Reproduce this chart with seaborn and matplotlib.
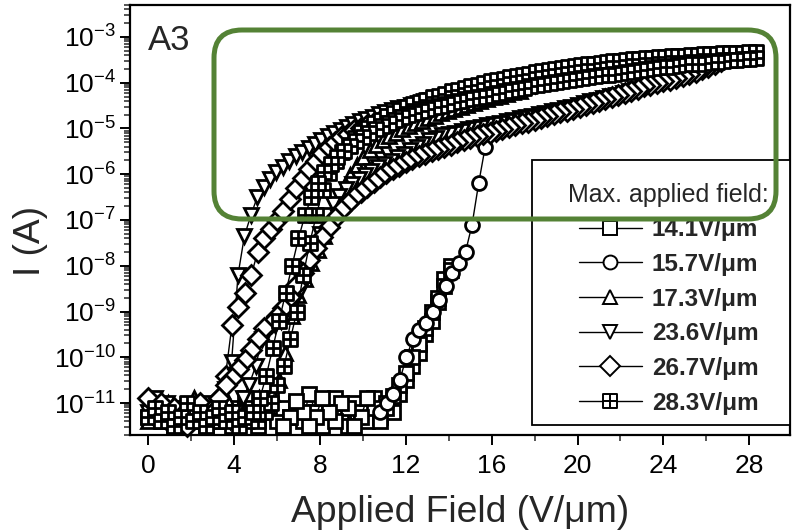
import numpy as np
import pandas as pd
import matplotlib
matplotlib.use("Agg")
import matplotlib.pyplot as plt
from matplotlib.path import Path
from matplotlib.lines import Line2D
from matplotlib.patches import Rectangle, FancyBboxPatch
from matplotlib.ticker import MultipleLocator, LogLocator, NullFormatter
from matplotlib.transforms import IdentityTransform
import seaborn as sns

# ---------------------------------------------------------------------------
# Field-emission I-V sweeps, sample A3. Each sweep is a uniform field ramp
# (about 0.3 V/um per step); currents are stored as log10(I / A).
# ---------------------------------------------------------------------------
series_labels = ["14.1V/\u03bcm", "15.7V/\u03bcm", "17.3V/\u03bcm",
                 "23.6V/\u03bcm", "26.7V/\u03bcm", "28.3V/\u03bcm"]
max_field = [14.1, 15.7, 17.3, 23.6, 26.7, 28.3]

# ---- ramp-up sweeps -------------------------------------------------------
up_141 = [-11.3, -11.0, -11.4, -11.2, -11.5, -11.1, -11.3, -11.4, -11.2, -11.5,
          -11.3, -11.4, -11.2, -11.5, -11.1, -10.9, -11.3, -11.5, -11.2, -10.9,
          -11.4, -11.1, -11.3, -11.0, -11.4, -10.8, -11.2, -11.5, -11.1, -10.9,
          -11.3, -11.5, -11.0, -11.2, -11.4, -10.9, -11.3, -11.0, -11.2, -10.8,
          -10.5, -10.2, -9.9, -9.5, -9.2, -8.8, -8.3, -8.0]
up_157 = [-11.2, -11.0, -10.8, -10.5, -10.0, -9.6, -9.4, -9.25, -9.0, -8.75,
          -8.45, -8.15, -7.95, -7.7, -7.1, -6.2, -5.4]
up_173 = [-11.4, -11.1, -11.3, -11.0, -11.2, -11.5, -11.2, -10.9, -11.3, -11.1,
          -11.4, -11.2, -10.9, -11.3, -11.1, -11.4, -11.2, -10.9, -11.1, -10.8,
          -10.5, -9.9, -9.1, -8.65, -8.3, -7.95, -7.65, -7.35, -7.0, -6.65,
          -6.3, -6.02, -5.8, -5.62, -5.48, -5.36, -5.26, -5.17, -5.09, -5.02,
          -4.95, -4.89, -4.83, -4.77, -4.72, -4.67, -4.62, -4.57, -4.52, -4.48,
          -4.44, -4.4, -4.36, -4.32, -4.28, -4.25, -4.21, -4.18]
up_236 = [-11.2, -10.9, -11.3, -11.0, -11.4, -11.2, -11.5, -11.1, -11.3, -11.0,
          -11.4, -11.1, -10.7, -10.1, -8.2, -7.35, -6.9, -6.5, -6.27, -6.1,
          -5.96, -5.84, -5.72, -5.61, -5.51, -5.42, -5.33, -5.25, -5.17, -5.1,
          -5.03, -4.96, -4.9, -4.84, -4.79, -4.74, -4.69, -4.64, -4.6, -4.56,
          -4.52, -4.48, -4.45, -4.41, -4.38, -4.35, -4.32, -4.29, -4.26, -4.23,
          -4.2, -4.17, -4.14, -4.12, -4.09, -4.06, -4.03, -4.01, -3.98, -3.96,
          -3.93, -3.91, -3.88, -3.86, -3.84, -3.81, -3.79, -3.77, -3.75, -3.73,
          -3.71, -3.69, -3.67, -3.65, -3.63, -3.61, -3.6, -3.58, -3.56, -3.55]
up_267 = [-10.9, -11.2, -11.0, -11.4, -11.1, -11.3, -11.5, -11.2, -11.0, -11.3,
          -11.1, -10.9, -10.4, -9.3, -8.9, -8.6, -8.2, -7.7, -7.4, -7.2,
          -7.0, -6.8, -6.55, -6.3, -6.08, -5.88, -5.7, -5.53, -5.4, -5.29,
          -5.19, -5.11, -5.04, -4.98, -4.93, -4.88, -4.83, -4.79, -4.74, -4.7,
          -4.66, -4.62, -4.58, -4.54, -4.5, -4.46, -4.43, -4.4, -4.36, -4.33,
          -4.3, -4.26, -4.23, -4.2, -4.16, -4.13, -4.11, -4.08, -4.05, -4.03,
          -4.0, -3.97, -3.95, -3.92, -3.89, -3.87, -3.85, -3.82, -3.8, -3.78,
          -3.76, -3.74, -3.72, -3.7, -3.68, -3.66, -3.64, -3.62, -3.6, -3.58,
          -3.57, -3.55, -3.53, -3.52, -3.5, -3.49, -3.47, -3.46, -3.44, -3.43]
up_283 = [-11.3, -11.1, -11.4, -11.2, -11.5, -11.3, -11.0, -11.4, -11.2, -11.5,
          -11.3, -11.1, -11.4, -11.2, -11.5, -11.3, -11.1, -11.4, -11.2, -11.0,
          -10.6, -10.2, -9.6, -9.0, -8.2, -7.5, -6.9, -6.35, -5.98, -5.72,
          -5.52, -5.35, -5.2, -5.08, -4.98, -4.89, -4.81, -4.73, -4.66, -4.59,
          -4.52, -4.47, -4.42, -4.37, -4.32, -4.28, -4.24, -4.19, -4.15, -4.11,
          -4.08, -4.04, -4.01, -3.97, -3.94, -3.91, -3.88, -3.85, -3.82, -3.8,
          -3.77, -3.75, -3.72, -3.7, -3.68, -3.66, -3.64, -3.62, -3.6, -3.58,
          -3.56, -3.55, -3.53, -3.52, -3.5, -3.49, -3.48, -3.47, -3.45, -3.44,
          -3.43, -3.42, -3.41, -3.41, -3.4, -3.39, -3.38, -3.38, -3.37, -3.36,
          -3.35, -3.35, -3.34, -3.33, -3.33]

# ---- ramp-down sweeps -----------------------------------------------------
down_141 = [-8.1, -8.45, -8.7, -9.0, -9.35, -9.7, -10.0, -10.35, -10.6, -10.85,
            -11.1, -11.4, -11.1, -10.9, -11.3, -11.5, -11.1, -11.0, -11.4, -11.2,
            -10.9, -11.3, -11.5, -11.2, -10.95, -11.3, -11.5]
down_236 = [-3.62, -3.9, -4.08, -4.14, -4.18, -4.22, -4.26, -4.29, -4.33, -4.37,
            -4.41, -4.45, -4.48, -4.52, -4.55, -4.59, -4.62, -4.66, -4.69, -4.72,
            -4.75, -4.78, -4.81, -4.84, -4.87, -4.9, -4.93, -4.96, -4.99, -5.02,
            -5.06, -5.09, -5.12, -5.15, -5.2, -5.26, -5.33, -5.4, -5.48, -5.56,
            -5.63, -5.7, -5.77, -5.85, -5.93, -6.02, -6.11, -6.21, -6.33, -6.47,
            -6.65, -6.9, -7.3, -7.75, -8.15, -8.5, -8.8, -9.05, -9.2, -9.3,
            -9.4, -9.6, -10.2, -10.6, -10.9, -11.2, -11.4]
down_267 = [-3.52, -3.58, -3.65, -3.71, -3.76, -3.81, -3.85, -3.89, -3.93, -3.97,
            -4.01, -4.04, -4.08, -4.13, -4.18, -4.23, -4.27, -4.31, -4.36, -4.4,
            -4.45, -4.49, -4.53, -4.57, -4.61, -4.65, -4.69, -4.73, -4.77, -4.81,
            -4.85, -4.89, -4.93, -4.97, -5.01, -5.05, -5.09, -5.13, -5.17, -5.21,
            -5.25, -5.3, -5.35, -5.4, -5.45, -5.5, -5.55, -5.61, -5.67, -5.74,
            -5.81, -5.89, -5.97, -6.06, -6.16, -6.27, -6.38, -6.5, -6.63, -6.78,
            -6.95, -7.15, -7.38, -7.62, -7.88, -8.15, -8.42, -8.68, -8.92, -9.1,
            -9.25, -9.35, -9.6, -9.85, -10.05, -10.25, -10.45, -10.6, -10.9, -11.2,
            -11.4]
down_283 = [-3.47, -3.48, -3.49, -3.5, -3.51, -3.53, -3.54, -3.55, -3.56, -3.58,
            -3.59, -3.6, -3.62, -3.63, -3.65, -3.66, -3.68, -3.7, -3.72, -3.74,
            -3.76, -3.78, -3.8, -3.82, -3.84, -3.86, -3.88, -3.9, -3.92, -3.94,
            -3.96, -3.98, -4.01, -4.03, -4.06, -4.08, -4.11, -4.14, -4.16, -4.19,
            -4.22, -4.25, -4.28, -4.31, -4.33, -4.36, -4.4, -4.43, -4.46, -4.5,
            -4.53, -4.57, -4.61, -4.66, -4.7, -4.75, -4.81, -4.87, -4.94, -5.01,
            -5.09, -5.18, -5.28, -5.38, -5.5, -5.63, -5.78, -5.96, -6.2, -6.5,
            -6.9, -7.4, -8.0, -8.6, -9.2, -9.8, -10.4, -10.9, -11.2]

# (series index, start field, end field, log10 currents)
sweeps = [
    (0, 0.0, 14.1, up_141), (0, 14.1, 6.3, down_141),
    (1, 10.8, 15.7, up_157),
    (2, 0.0, 17.3, up_173),
    (3, 0.0, 23.6, up_236), (3, 23.6, 3.8, down_236),
    (4, 0.0, 26.7, up_267), (4, 26.7, 2.7, down_267),
    (5, 0.0, 28.3, up_283), (5, 28.3, 4.9, down_283),
]

frames = []
for k, (s, f0, f1, vals) in enumerate(sweeps):
    vals = np.asarray(vals, dtype=float)
    frames.append(pd.DataFrame({
        "field": np.linspace(f0, f1, len(vals)),
        "current": 10.0 ** vals,
        "series": series_labels[s],
        "sweep": k,
    }))
df = pd.concat(frames, ignore_index=True)

# square with an inscribed cross for the last series
boxplus = Path(
    [(-1, -1), (1, -1), (1, 1), (-1, 1), (-1, -1), (0, -1), (0, 1), (-1, 0), (1, 0)],
    [Path.MOVETO, Path.LINETO, Path.LINETO, Path.LINETO, Path.CLOSEPOLY,
     Path.MOVETO, Path.LINETO, Path.MOVETO, Path.LINETO],
)
marker_list = ["s", "o", "^", "v", "D", boxplus]
marker_map = dict(zip(series_labels, marker_list))

sns.set_style("ticks")
plt.rcParams["font.family"] = ["Liberation Sans", "DejaVu Sans"]
plt.rcParams["mathtext.default"] = "regular"

fig = plt.figure(figsize=(7.97, 5.30), dpi=100)
ax = fig.add_axes([130 / 797, 95 / 530, 660 / 797, 430 / 530])

sns.lineplot(
    data=df, x="field", y="current", style="series", units="sweep",
    estimator=None, sort=False, markers=marker_map, dashes=False,
    style_order=series_labels, color="black", linewidth=1.0,
    markersize=10, markerfacecolor="white", markeredgecolor="black",
    markeredgewidth=2.0, legend=False, ax=ax, clip_on=False,
)

ax.set_yscale("log")
ax.set_xlim(-0.85, 29.9)
ax.set_ylim(2.0e-12, 5.0e-3)
ax.xaxis.set_major_locator(MultipleLocator(4))
ax.xaxis.set_minor_locator(MultipleLocator(2))
ax.yaxis.set_major_locator(LogLocator(base=10, numticks=20))
ax.yaxis.set_minor_locator(LogLocator(base=10, subs=np.arange(2, 10), numticks=20))
ax.yaxis.set_minor_formatter(NullFormatter())

for sp in ax.spines.values():
    sp.set_linewidth(1.6)
    sp.set_color("black")
ax.tick_params(axis="both", which="major", direction="out", length=7, width=1.4,
               labelsize=19, colors="black", pad=3)
ax.tick_params(axis="both", which="minor", direction="out", length=4, width=1.1)
ax.tick_params(axis="x", which="major", pad=7)

ax.set_xlabel("Applied Field (V/\u03bcm)", fontsize=26.8)
ax.set_ylabel("I (A)", fontsize=26.8)
ax.xaxis.set_label_coords(0.5, -0.14)
ax.yaxis.set_label_coords(-0.124, 0.45)

ax.text(0.027, 0.895, "A3", transform=ax.transAxes, fontsize=25,
        ha="left", va="baseline")

# legend box
ax.add_patch(Rectangle((0.609, 0.0233), 0.391, 0.616, transform=ax.transAxes,
                       facecolor="white", edgecolor="black", linewidth=1.3,
                       zorder=4, clip_on=False))
handles = [Line2D([], [], color="black", linewidth=1.0, marker=m, markersize=10,
                  markerfacecolor="white", markeredgecolor="black",
                  markeredgewidth=1.4) for m in marker_list]
leg = ax.legend(handles, series_labels, title="Max. applied field:",
                loc="upper center", bbox_to_anchor=(0.816, 0.587),
                frameon=False, borderpad=0, borderaxespad=0,
                handlelength=2.6, handletextpad=0.4, labelspacing=0.48,
                prop={"size": 17.5, "weight": "bold"}, title_fontsize=18)
leg.set_zorder(5)

# highlight frame around the high-current region
fig.add_artist(FancyBboxPatch((214, 311), 562, 189,
                              boxstyle="round,pad=0,rounding_size=28",
                              transform=IdentityTransform(), fill=False,
                              edgecolor="#548235", linewidth=3.6, zorder=10))

fig.savefig("out.png", dpi=100)
